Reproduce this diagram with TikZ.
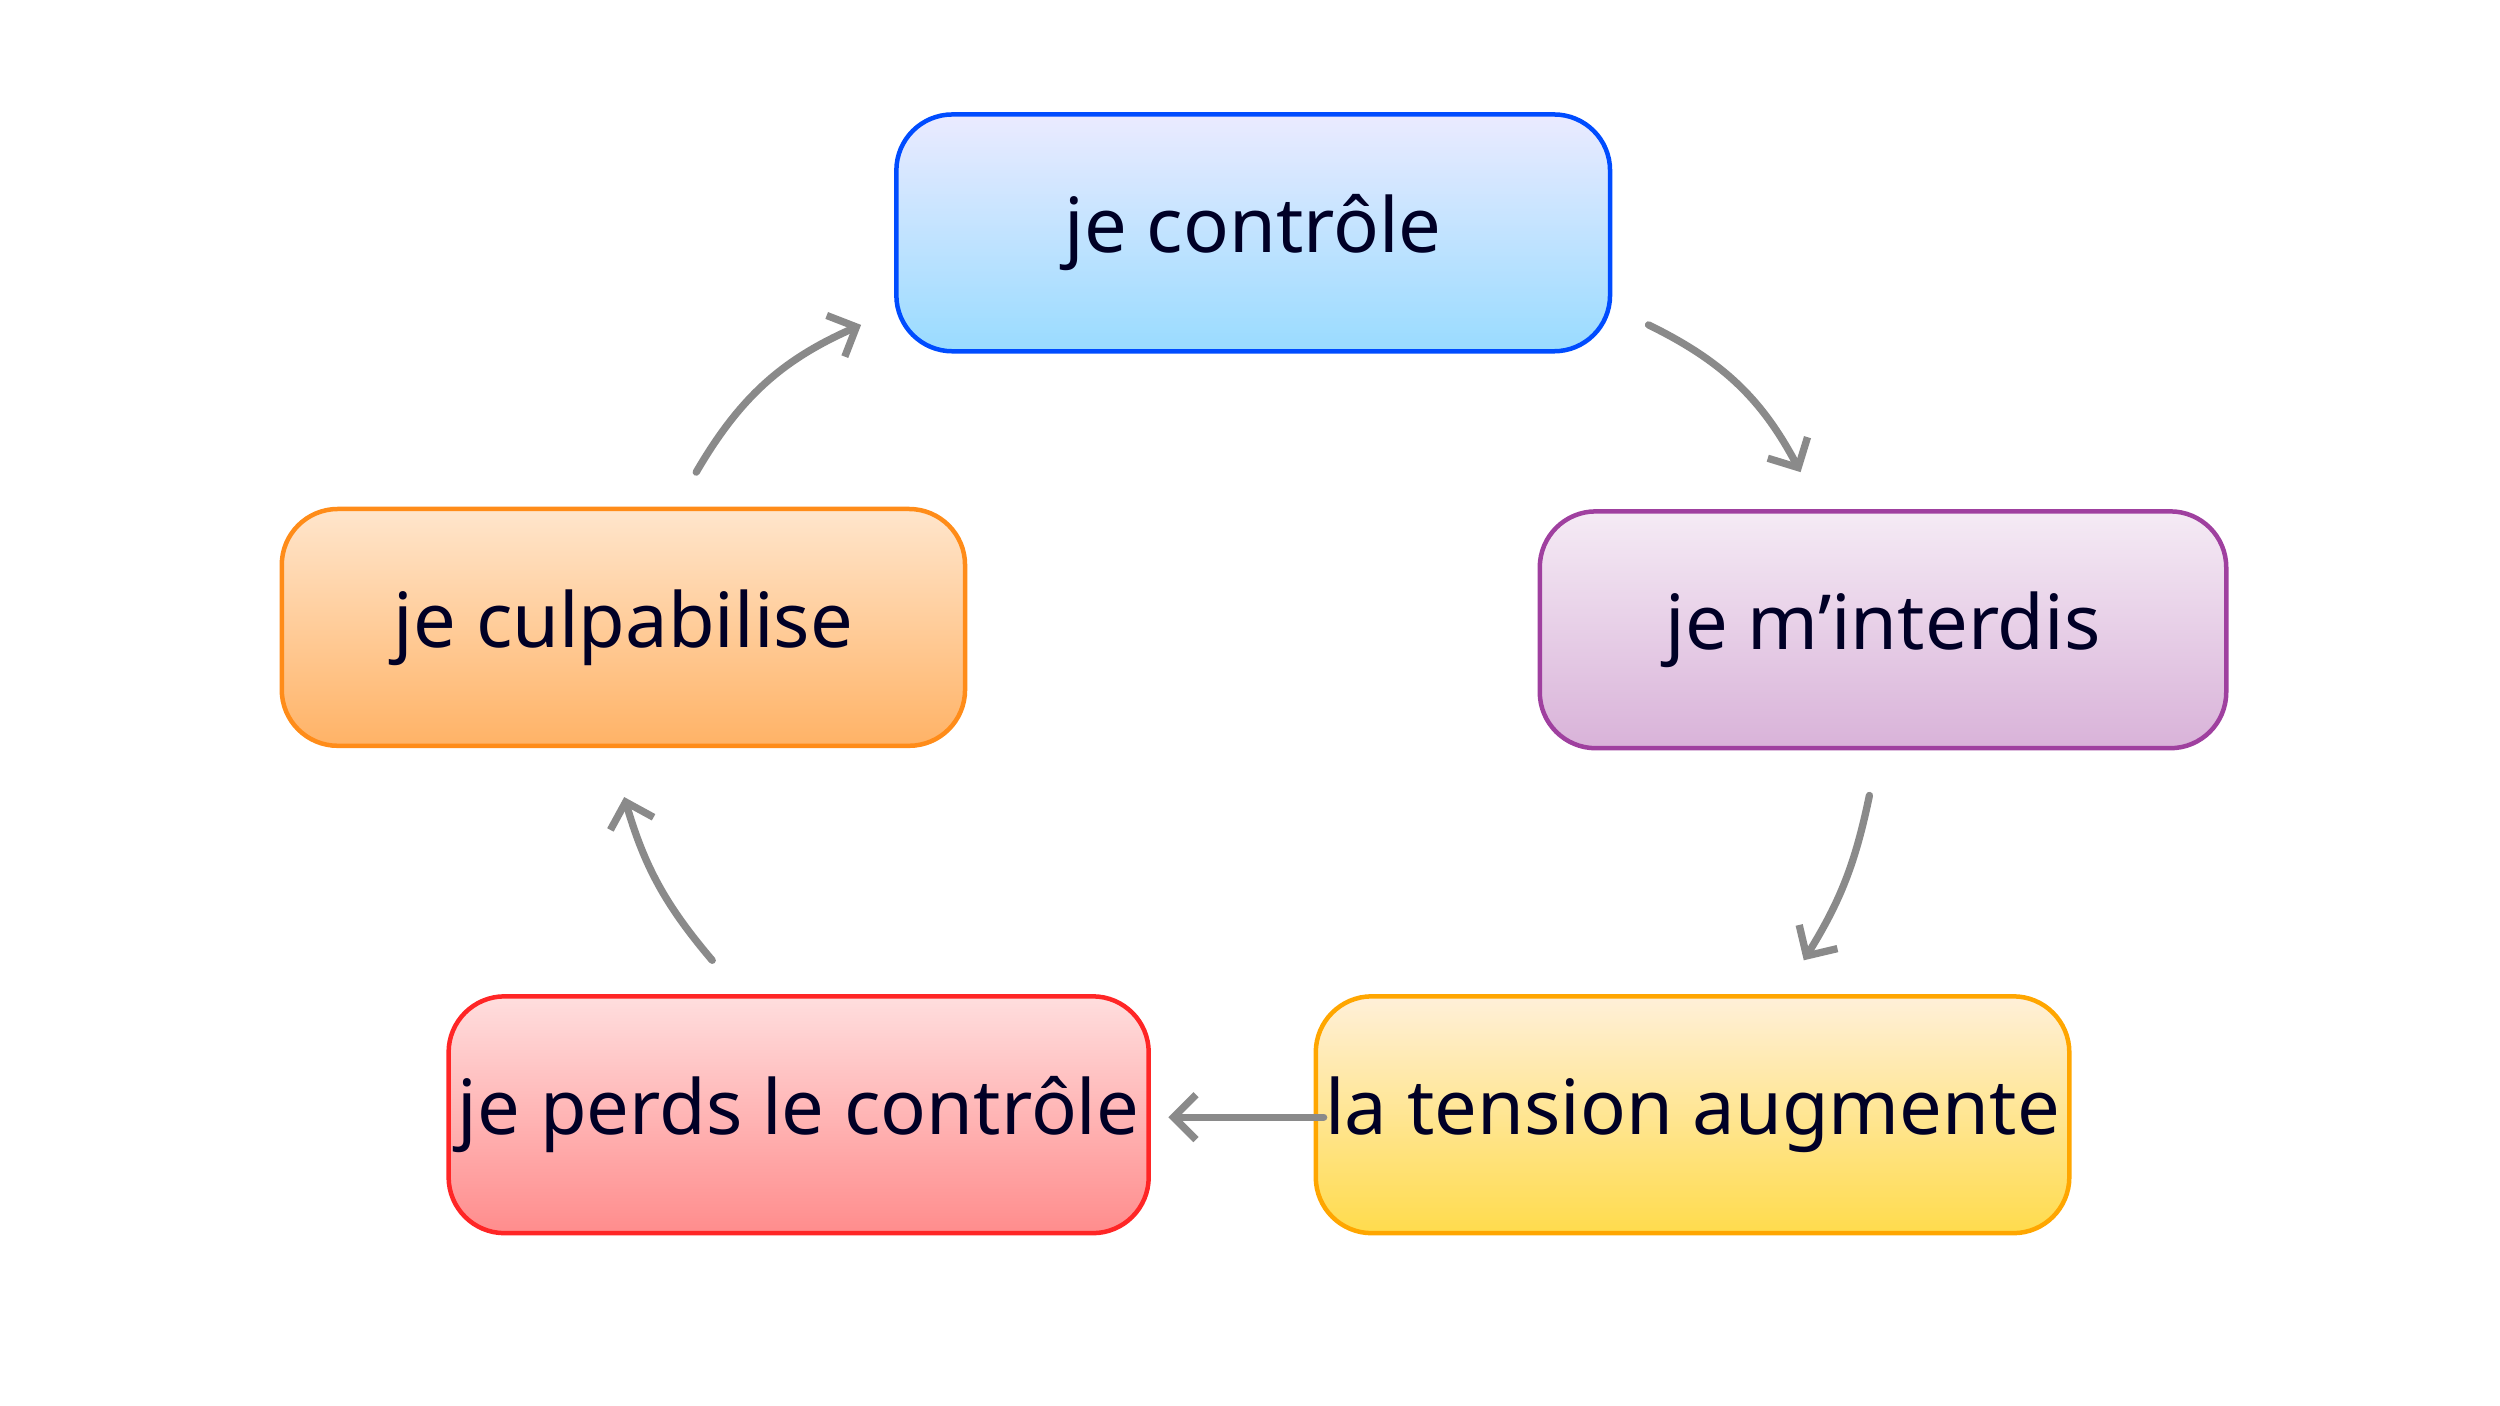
\documentclass[tikz,border=0pt]{standalone}
\usepackage{fontspec}
\setmainfont{Noto Sans}
\usetikzlibrary{arrows.meta}
\definecolor{arr}{HTML}{8A8A8A}
\tikzset{
 box/.style={draw, line width=1.6pt, rounded corners=0.7cm, minimum height=2.96cm, font=\fontsize{27}{30}\selectfont\bfseries, text=black!85!blue},
 con/.style={draw=arr, line width=2.6pt, line cap=round, -{Straight Barb[length=8pt,width=16pt,line width=2.6pt]}}
}
\begin{document}
\begin{tikzpicture}[x=0.02cm,y=-0.02cm]
\useasboundingbox (0,0) rectangle (1562,878);
\node[box, minimum width=8.92cm, draw=blue!70!cyan, top color=blue!8, bottom color=blue!35!cyan!40] (a) at (783,145.5) {je contrôle};
\node[box, minimum width=8.58cm, draw=violet!75, top color=violet!8, bottom color=violet!30] (b) at (1176.5,393.5) {je m'interdis};
\node[box, minimum width=8.42cm, draw=orange!70!yellow, top color=yellow!20!orange!15, bottom color=orange!40!yellow!70] (c) at (1057.5,696.5) {la tension augmente};
\node[box, minimum width=8.36cm, draw=red!85, top color=red!13, bottom color=red!45] (d) at (499,696.5) {je perds le contrôle};
\node[box, minimum width=8.54cm, draw=orange!90, top color=orange!20, bottom color=orange!60] (e) at (389.5,392) {je culpabilise};
\coordinate (a1) at (1030,203); \coordinate (b0) at (1125,295);
\coordinate (b1) at (1168,497); \coordinate (c0) at (1127,600);
\coordinate (c1) at (827,698); \coordinate (d0) at (730,698);
\coordinate (d1) at (445,600); \coordinate (e0) at (390,498);
\coordinate (e1) at (435,295); \coordinate (a0) at (538,203);
\draw[con] (a1) to[bend left=18] (b0);
\draw[con] (b1) to[bend left=10] (c0);
\draw[con] (c1) -- (d0);
\draw[con] (d1) to[bend left=12] (e0);
\draw[con] (e1) to[bend left=18] (a0);
\end{tikzpicture}
\end{document}
